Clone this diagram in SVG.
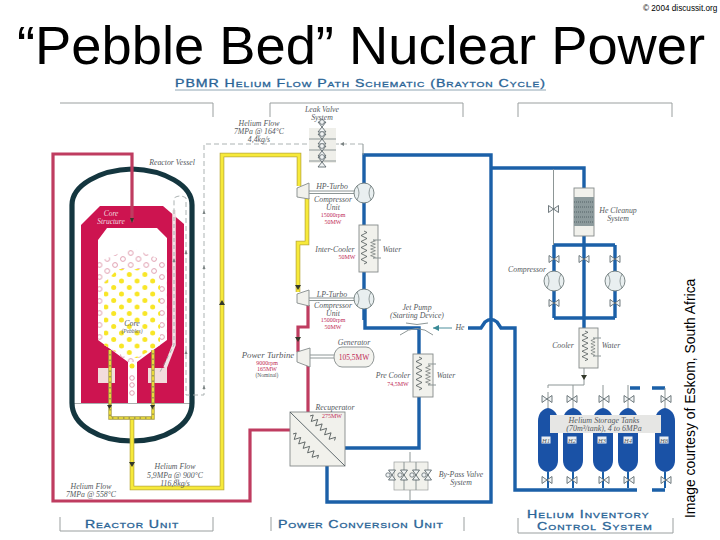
<svg xmlns="http://www.w3.org/2000/svg" xmlns:xlink="http://www.w3.org/1999/xlink" width="720" height="540" viewBox="0 0 720 540">
<style>
text{font-family:"Liberation Serif","Times New Roman",serif;font-style:italic;font-size:7.800px;fill:#555a5e;text-anchor:middle}
.sans{font-family:"Liberation Sans",Arial,sans-serif;font-style:normal;fill:#000;text-anchor:start}
.cap{font-family:"Liberation Sans",Arial,sans-serif;font-style:normal;font-variant:small-caps;fill:#2a6496;stroke:#2a6496;stroke-width:.3;text-anchor:start;font-size:10.500px}
.red{font-style:normal;font-size:6px;fill:#c02a55}
.frame{fill:none;stroke:#9a9f9f;stroke-width:1}
.blue{fill:none;stroke:#1b60a8;stroke-width:3.400;stroke-linejoin:miter}
.yel0{fill:none;stroke:#b9a83c;stroke-width:4.600}
.yel{fill:none;stroke:#f7ea3a;stroke-width:3}
.crim{fill:none;stroke:#bf3c60;stroke-width:3.200}
.thin{fill:none;stroke:#8d9696;stroke-width:1}
.dash{fill:none;stroke:#a3aaaa;stroke-width:.9;stroke-dasharray:5 3}
.box{fill:#f1f1ec;stroke:#858b8b;stroke-width:.9}
.coil{fill:none;stroke:#4d5555;stroke-width:.8}
.tank{fill:#1a52a6}
.tag{fill:#e9edf2;stroke:none}
.arr{fill:#33382a}
</style>
<defs>
<pattern id="pY" width="15.6" height="13" patternUnits="userSpaceOnUse" x="1" y="271"><circle cx="3.5" cy="3.5" r="2.5" fill="#f8e626"/><circle cx="11.3" cy="10" r="2.5" fill="#f8e626"/></pattern>
<pattern id="pP" width="15.6" height="12" patternUnits="userSpaceOnUse" x="2" y="250"><circle cx="3.9" cy="3" r="2.4" fill="none" stroke="#d98a9e" stroke-width=".8"/><circle cx="11.7" cy="9" r="2.4" fill="none" stroke="#d98a9e" stroke-width=".8"/></pattern>
<path id="coil" class="coil" d="M0,0l3,1.5l-6,3l6,3l-6,3l6,3l-6,3l6,3l-6,3l6,3l-6,3l6,3l-3,1.5"/>
<g id="vh"><path d="M-5,-3.500L5,3.500V-3.500L-5,3.500Z" fill="#f0f3f4" stroke="#4f5a60" stroke-width=".8"/></g>
<g id="vv"><path d="M-3.500,-5L3.500,5H-3.500L3.500,-5Z" fill="#f0f3f4" stroke="#4f5a60" stroke-width=".8"/><circle cx="-4" cy="0" r="2.200" fill="#f0f3f4" stroke="#4f5a60" stroke-width=".7"/></g>
<g id="vt"><path d="M-4,-5L4,5H-4L4,-5Z" fill="#f0f3f4" stroke="#4f5a60" stroke-width=".8"/><circle cx="0" cy="-5" r="2.400" fill="#f0f3f4" stroke="#4f5a60" stroke-width=".7"/></g>
<g id="comp"><circle r="10" fill="#e9eff0" stroke="#6e7a7a" stroke-width=".9"/><path d="M-7,-7Q-3,0-7,7M7,-7Q3,0 7,7" fill="none" stroke="#6e7a7a" stroke-width=".7"/></g>
<path id="tk" class="tank" d="M-10,16C-10,9-6,4 0,3C6,4 10,9 10,16V55C10,62 6,66 0,67C-6,66-10,62-10,55Z"/>
<rect id="tg" class="tag" x="-4.500" y="-3.500" width="9" height="7"/>
</defs>

<g id="title">
<text class="sans" x="17" y="64" style="font-size:54.300px">“Pebble Bed” Nuclear Power</text>
<text class="sans" x="643" y="11" style="font-size:8.200px">© 2004  discussit.org</text>
<text class="sans" transform="translate(695,518) rotate(-90)" style="font-size:13.900px">Image courtesy of Eskom, South Africa</text>
<text class="cap" transform="translate(175,87) scale(1.35,1)" x="0" y="0" textLength="274" lengthAdjust="spacing">PBMR Helium Flow Path Schematic (Brayton Cycle)</text>
<line x1="175" y1="90" x2="546" y2="90" stroke="#8fa6b4" stroke-width="1"/>
</g>

<g id="frames">
<path class="frame" d="M60,103H213V117M270,117V103H463V117M518,117V103H672V117"/>
<path class="frame" d="M60,517V531H213V517M271,517V531M464,517V531M518,518V533H673V518"/>
<text class="cap" transform="translate(85,527.500) scale(1.35,1)" x="0" y="0" textLength="69" lengthAdjust="spacing">Reactor Unit</text>
<text class="cap" transform="translate(278,527.500) scale(1.35,1)" x="0" y="0" textLength="122" lengthAdjust="spacing">Power Conversion Unit</text>
<text class="cap" transform="translate(527,518) scale(1.35,1)" x="0" y="0" textLength="90" lengthAdjust="spacing">Helium Inventory</text>
<text class="cap" transform="translate(537,529.500) scale(1.35,1)" x="0" y="0" textLength="85" lengthAdjust="spacing">Control System</text>
</g>

<g id="reactor">
<path d="M100,206H163L184,224V403H81V225Z" fill="#cd1450"/>
<path d="M98,240L107,228H157L167,238V340L137,362V403H128V362L98,340Z" fill="#fff"/>
<path d="M98,262L132,248L167,262V340L137,362H128L98,340Z" fill="url(#pP)"/>
<path d="M118,269H146L160,283V345L137,358H127L104,345V283Z" fill="#fff"/>
<path d="M118,269H146L160,283V345L137,358H127L104,345V283Z" fill="url(#pY)"/>
<circle cx="132" cy="366" r="2.500" fill="#f8e626"/>
<circle cx="132" cy="378" r="2.300" fill="none" stroke="#d98a9e" stroke-width=".8"/><circle cx="132" cy="385" r="2.300" fill="none" stroke="#d98a9e" stroke-width=".8"/><circle cx="132" cy="393" r="2.300" fill="none" stroke="#d98a9e" stroke-width=".8"/>
<rect x="98" y="368" width="17" height="15" fill="#f2dcdc"/>
<rect x="148" y="368" width="19" height="15" fill="#f2dcdc"/>
<path d="M174,210V345L165,368" fill="none" stroke="#f3e3e6" stroke-width="3.500"/>
<path d="M174,210V345L160,372" fill="none" stroke="#8d9696" stroke-width=".7" stroke-dasharray="4 3"/>
<line x1="73" y1="403.500" x2="191" y2="403.500" stroke="#a9adad" stroke-width="1"/>
<path id="vessel" d="M72,403V205C72,185 100,170 132,169C164,170 192,185 192,205V403C192,425 165,441 132,441C99,441 72,425 72,403Z" fill="none" stroke="#14363f" stroke-width="5.200"/>
<text x="172" y="165">Reactor Vessel</text>
<text x="111" y="216" style="fill:#eed8df;font-size:7.500px">Core</text>
<text x="111" y="224" style="fill:#eed8df;font-size:7.500px">Structure</text>
<text x="132" y="326">Core</text>
<text x="132" y="332.500" style="font-size:5.500px">(Pebbles)</text>
</g>

<g id="connectors">
<path class="crim" d="M132,222V154H53V501H250V430H290"/>
<path class="crim" d="M308,305V327H298V352M308,365V412"/>
<path class="yel0" d="M132,418V488H222V155H299V186M307,198V243H298V292"/>
<path class="yel" d="M132,418V488H222V155H299V186M307,198V243H298V292"/>
<path d="M110,350V418H153V350" fill="none" stroke="#a89f45" stroke-width="3.400"/>
<path d="M110,350V418H153V350" fill="none" stroke="#f4e338" stroke-width="1.700" stroke-dasharray="4 1.500"/>
<path class="blue" d="M364,320V155H491V502H327V466"/>
<path class="blue" d="M491,168H584V188"/>
<path class="blue" d="M345,448H419V328H365V305"/>
<path class="blue" d="M468,328H481L485,322Q491,317 497,322L501,328H515V490H637"/>
<path class="blue" d="M652,490H665M630,388H640M652,388H665"/>
<path class="blue" d="M584,235V328M554,318H615M554,245H615M554,245V318M615,245V318"/>
<path class="dash" d="M363,144H204V395H186V198Q180,194 174,198V210"/>
<path class="thin" d="M363,155V144"/>
<path class="thin" d="M553.500,169V245"/>
<path d="M452,328H433" fill="none" stroke="#4d8f9c" stroke-width="1"/>
<path d="M433,328l6,-3v6Z" fill="#3a8a96"/>
<path class="thin" d="M584,368V385M548,388V385H584M573,385V392M603,385V392M628,385V392"/>
<path class="thin" d="M410,452V462M410,490V501"/>
<path class="arr" d="M129,462h6l-3,5ZM219,305h6l-3,-5ZM295,285h6l-3,5ZM295,337h6l-3,5ZM107,405h5l-2.500,4ZM150,405h5l-2.500,4ZM581,375h6l-3,5ZM130,218h4l-2,5Z"/>
<path d="M204,210l1.500,4h-3ZM204,265l1.500,4h-3ZM204,385l1.500,4h-3ZM186,250l1.500,4h-3ZM186,350l1.500,4h-3ZM174,258l1.500,4h-3ZM340,144l4,-2v4Z" fill="#7b8383"/>
</g>

<g id="leak-valves">
<rect x="309" y="128" width="27" height="35" fill="#efefea"/>
<path class="thin" d="M309,139H336M309,150H336M309,161H336"/>
<use xlink:href="#vt" href="#vt" x="322" y="127"/><use xlink:href="#vt" href="#vt" x="322" y="139"/><use xlink:href="#vt" href="#vt" x="322" y="151"/><use xlink:href="#vt" href="#vt" x="322" y="162"/>
<text x="322" y="112">Leak Valve</text>
<text x="322" y="119.500">System</text>
<text x="259" y="126">Helium Flow</text><text x="259" y="134">7MPa @ 164°C</text><text x="259" y="142">4,4kg/s</text>
</g>

<g id="hp-turbo">
<path class="box" d="M297,188L309,183V199L297,197Z"/>
<path class="thin" d="M309,191H354M309,193.500H354"/>
<use xlink:href="#comp" href="#comp" x="364" y="193"/>
<text x="332" y="189">HP-Turbo</text><text x="333" y="202">Compressor</text><text x="333" y="210">Unit</text>
<text class="red" x="333" y="217">15000rpm</text><text class="red" x="333" y="224">50MW</text>
</g>

<g id="inter-cooler">
<rect class="box" x="359" y="225" width="19" height="47"/>
<use xlink:href="#coil" href="#coil" x="364" y="231"/>
<use xlink:href="#coil" href="#coil" transform="translate(373,240) scale(.8,.55)"/>
<path class="thin" d="M373,240H381M373,258H381"/>
<text x="335" y="252">Inter-Cooler</text><text x="392" y="252">Water</text><text class="red" x="347" y="259">50MW</text>
</g>

<g id="lp-turbo">
<path class="box" d="M297,294L309,290V306L297,303Z"/>
<path class="thin" d="M309,298H354M309,300.500H354"/>
<use xlink:href="#comp" href="#comp" x="364" y="299"/>
<text x="332" y="297">LP-Turbo</text><text x="333" y="308">Compressor</text><text x="333" y="315.500">Unit</text>
<text class="red" x="333" y="322">15000rpm</text><text class="red" x="333" y="328.500">50MW</text>
</g>

<g id="jet-pump">
<path class="thin" d="M406,323Q417,326 428,323M400,335Q417,322 433,335"/>
<text x="417" y="310">Jet Pump</text><text x="417" y="318">(Starting Device)</text><text x="460" y="330">He</text>
</g>

<g id="power-turbine">
<path class="box" d="M297,352L310,348V367L297,362Z"/>
<path class="thin" d="M310,355H334M310,358H334"/>
<rect x="334" y="347" width="40" height="20" rx="8" ry="10" fill="#f3f3ee" stroke="#858b8b" stroke-width=".9"/>
<text x="354" y="345">Generator</text><text class="red" x="354" y="359.500" style="font-size:7.500px">105,5MW</text>
<text x="268" y="358" style="font-size:8.800px">Power Turbine</text>
<text class="red" x="267" y="365">9000rpm</text><text class="red" x="267" y="371">165MW</text>
<text x="267" y="376.500" style="font-size:5.500px;font-style:normal">(Nominal)</text>
</g>

<g id="pre-cooler">
<rect class="box" x="413" y="354" width="20" height="43"/>
<use xlink:href="#coil" href="#coil" transform="translate(419,357)"/>
<use xlink:href="#coil" href="#coil" transform="translate(428,365) scale(.8,.6)"/>
<path class="thin" d="M428,364H436M428,385H436"/>
<text x="393" y="378">Pre Cooler</text><text x="446" y="378">Water</text><text class="red" x="398" y="386">74,5MW</text>
</g>

<g id="recuperator">
<rect class="box" x="290" y="412" width="55" height="54"/>
<path d="M290,412L345,466" stroke="#4f5a60" stroke-width=".9"/>
<use xlink:href="#coil" href="#coil" transform="translate(310,416) rotate(-45) scale(1,1.050)"/>
<use xlink:href="#coil" href="#coil" transform="translate(293,434) rotate(-45) scale(1,1.050)"/>
<text x="335" y="409.500">Recuperator</text><text class="red" x="332" y="418">275MW</text>
</g>

<g id="bypass-valves">
<rect x="394" y="462" width="34" height="28" fill="#f1f1ec" stroke="#9a9f9f" stroke-width=".7"/>
<path class="thin" d="M404,462V490M416,462V490"/>
<use xlink:href="#vv" href="#vv" x="392" y="475"/><use xlink:href="#vv" href="#vv" x="404" y="475"/><use xlink:href="#vv" href="#vv" x="416" y="475"/><use xlink:href="#vv" href="#vv" x="428" y="475"/>
<text x="461" y="477">By-Pass Valve</text><text x="461" y="485">System</text>
</g>

<g id="helium-inventory">
<rect class="box" x="574" y="188" width="20" height="48"/>
<rect x="574" y="197" width="20" height="29" fill="#8c9a9c"/>
<path d="M574,202H594M574,207H594M574,212H594M574,217H594M574,222H594" stroke="#47555a" stroke-width=".8" stroke-dasharray="1 1"/>
<text x="618" y="213">He Cleanup</text><text x="618" y="220.500">System</text>
<use xlink:href="#vh" href="#vh" x="553.500" y="209"/>
<use xlink:href="#vh" href="#vh" x="554" y="259"/><use xlink:href="#vh" href="#vh" x="584" y="259"/><use xlink:href="#vh" href="#vh" x="615" y="259"/>
<use xlink:href="#vh" href="#vh" x="554" y="303"/><use xlink:href="#vh" href="#vh" x="615" y="303"/>
<use xlink:href="#comp" href="#comp" x="554" y="281"/><use xlink:href="#comp" href="#comp" x="615" y="281"/>
<text x="527" y="272">Compressor</text>
<rect class="box" x="579" y="328" width="19" height="40"/>
<use xlink:href="#coil" href="#coil" transform="translate(585,331) scale(1,.9)"/>
<use xlink:href="#coil" href="#coil" transform="translate(593,338) scale(.7,.55)"/>
<path class="thin" d="M593,338H601M593,356H601"/>
<text x="563" y="348">Cooler</text><text x="611" y="348">Water</text>
</g>

<g id="tanks">
<use xlink:href="#tk" href="#tk" x="548" y="405"/><use xlink:href="#tk" href="#tk" x="573" y="405"/><use xlink:href="#tk" href="#tk" x="603" y="405"/><use xlink:href="#tk" href="#tk" x="628" y="405"/><use xlink:href="#tk" href="#tk" x="665" y="405"/>
<path class="blue" d="M548,472V488M573,472V488M603,472V488M628,472V488M665,472V488" style="stroke-width:2"/>
<path class="thin" d="M548,392V408M573,392V408M603,392V408M628,392V408M665,388V408"/>
<use xlink:href="#vh" href="#vh" x="547" y="399"/><use xlink:href="#vh" href="#vh" x="572" y="399"/><use xlink:href="#vh" href="#vh" x="604" y="399"/><use xlink:href="#vh" href="#vh" x="629" y="399"/><use xlink:href="#vh" href="#vh" x="666" y="399"/>
<use xlink:href="#vh" href="#vh" x="547" y="480"/><use xlink:href="#vh" href="#vh" x="572" y="480"/><use xlink:href="#vh" href="#vh" x="604" y="480"/><use xlink:href="#vh" href="#vh" x="629" y="480"/><use xlink:href="#vh" href="#vh" x="666" y="480"/>
<rect x="550" y="415" width="111" height="18" fill="#e6e6e4"/>
<text x="604" y="422.500" style="font-size:8px">Helium Storage Tanks</text>
<text x="604" y="431" style="font-size:8px">(70m³/tank), 4 to 6MPa</text>
<use xlink:href="#tg" href="#tg" x="546" y="440"/><use xlink:href="#tg" href="#tg" x="572" y="440"/><use xlink:href="#tg" href="#tg" x="602" y="440"/><use xlink:href="#tg" href="#tg" x="628" y="440"/><use xlink:href="#tg" href="#tg" x="664" y="440"/>
<text x="546" y="442.500" style="font-size:6.500px">H1</text><text x="572" y="442.500" style="font-size:6.500px">H2</text><text x="602" y="442.500" style="font-size:6.500px">H3</text><text x="628" y="442.500" style="font-size:6.500px">H4</text><text x="664" y="442.500" style="font-size:6.500px">H8</text>
</g>

<g id="flow-labels">
<text x="175" y="469">Helium Flow</text><text x="175" y="477.500">5,9MPa @ 900°C</text><text x="175" y="486">116,8kg/s</text>
<text x="91" y="488.500">Helium Flow</text><text x="91" y="496.500">7MPa @ 558°C</text>
</g>
</svg>
